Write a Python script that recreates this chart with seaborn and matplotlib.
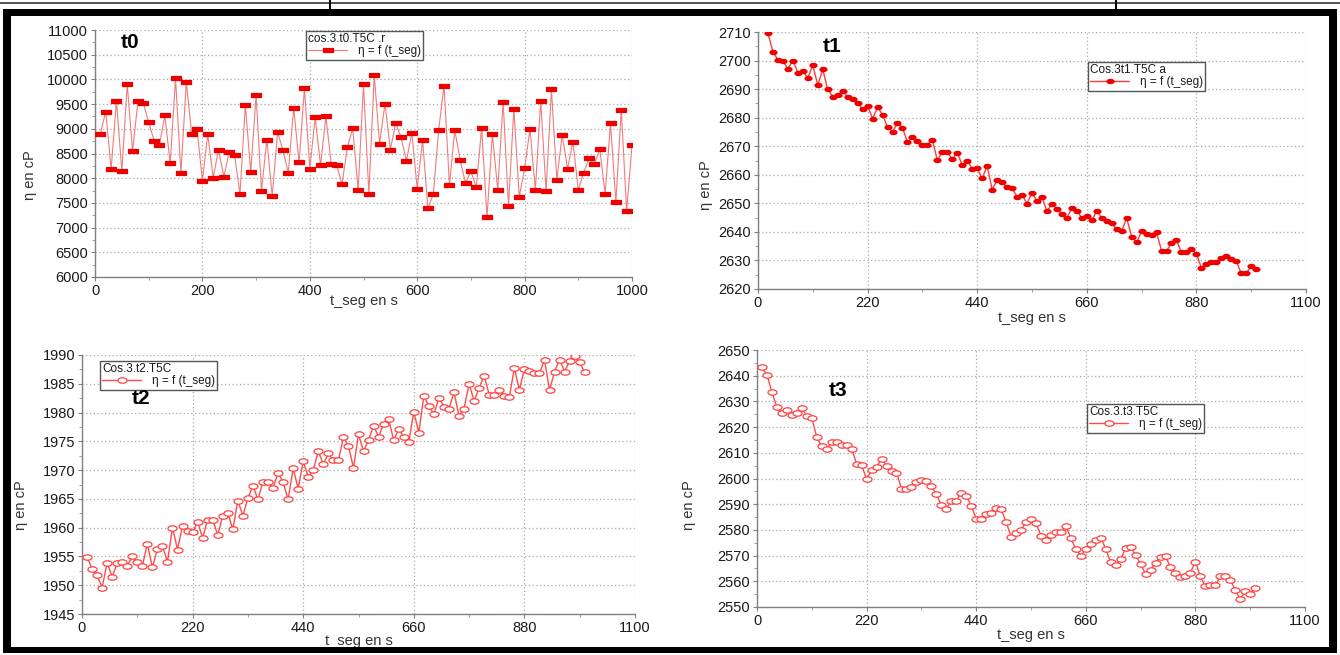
import numpy as np
import pandas as pd
import matplotlib
matplotlib.use("Agg")
import matplotlib.pyplot as plt
import seaborn as sns
from matplotlib.path import Path
from matplotlib.transforms import Affine2D
from matplotlib.patches import Rectangle
from matplotlib.ticker import AutoMinorLocator

# ---------------- data ----------------
t0_time = list(range(10, 1001, 10))
t0_eta = [8900, 9350, 8180, 9570, 8140, 9900, 8550, 9560, 9520, 9130,
          8760, 8680, 9270, 8300, 10020, 8100, 9940, 8900, 9000, 7950,
          8890, 8010, 8570, 8030, 8540, 8460, 7680, 9480, 8120, 9680,
          7740, 8780, 7640, 8930, 8570, 8110, 9430, 8320, 9820, 8190,
          9230, 8260, 9250, 8280, 8260, 7880, 8630, 9010, 7760, 9900,
          7680, 10090, 8700, 9510, 8580, 9110, 8830, 8350, 8920, 7790,
          8780, 7390, 7680, 8980, 9870, 7860, 8970, 8370, 7900, 8140,
          7820, 9020, 7210, 8890, 7760, 9550, 7440, 9410, 7620, 8200,
          9000, 7760, 9570, 7740, 9800, 7960, 8880, 8190, 8740, 7760,
          8110, 8400, 8280, 8590, 7690, 9110, 7510, 9390, 7340, 8670]

t1_time = list(range(20, 1001, 10))
t1_eta = [2709.5, 2703.1, 2700.2, 2699.9, 2697.1, 2700.0, 2695.8, 2696.2, 2694.0, 2698.3,
          2691.4, 2696.9, 2689.9, 2687.4, 2687.9, 2689.4, 2687.2, 2686.4, 2685.2, 2683.0,
          2684.1, 2679.7, 2683.6, 2681.1, 2676.7, 2675.1, 2678.0, 2676.5, 2671.4, 2673.1,
          2672.0, 2670.6, 2670.6, 2672.2, 2665.1, 2668.0, 2668.0, 2665.5, 2667.8, 2663.3,
          2665.0, 2662.1, 2662.3, 2658.7, 2663.1, 2654.8, 2658.1, 2657.3, 2655.6, 2655.3,
          2652.3,
          2653.0, 2649.9, 2653.7, 2650.8, 2652.2, 2647.2, 2649.7, 2648.0, 2646.2, 2644.9,
          2648.3, 2647.4, 2644.9, 2645.6, 2644.0, 2647.3, 2645.0, 2643.7, 2643.0, 2640.9,
          2640.2, 2644.9, 2638.3, 2636.3, 2640.2, 2639.1, 2638.8, 2639.8, 2633.4, 2633.4,
          2636.0, 2637.1, 2632.8, 2633.0, 2634.0, 2632.4, 2627.4, 2628.6, 2629.5, 2629.5,
          2630.7, 2631.7, 2630.5, 2629.8, 2625.5, 2625.5, 2628.0, 2626.9]

t2_time = list(range(10, 1001, 10))
t2_eta = [1954.9, 1952.9, 1951.7, 1949.6, 1953.9, 1951.5, 1953.8, 1954.0, 1953.4, 1955.0,
          1954.1, 1953.3, 1957.2, 1953.1, 1956.3, 1956.8, 1954.1, 1960.0, 1956.2, 1960.3,
          1959.4, 1959.2, 1961.0, 1958.2, 1961.4, 1961.4, 1958.7, 1962.1, 1962.6, 1959.7,
          1964.7, 1962.1, 1965.1, 1967.3, 1964.9, 1968.0, 1967.9, 1966.9, 1969.5, 1967.9,
          1964.9, 1970.3, 1966.8, 1971.5, 1968.8, 1970.0, 1973.3, 1971.0, 1972.9, 1971.7,
          1971.7, 1975.7, 1974.2, 1970.4,
          1976.2, 1973.3, 1975.2, 1977.7, 1975.8, 1978.0, 1978.8, 1975.2, 1977.1, 1975.8,
          1974.9, 1980.1, 1976.5, 1982.9, 1981.1, 1979.7, 1982.6, 1981.0, 1980.7, 1983.5,
          1979.4, 1980.7, 1985.0, 1982.0, 1984.3, 1986.4, 1983.1, 1983.1, 1984.0, 1982.9,
          1982.7, 1987.7, 1984.0, 1987.5, 1987.2, 1986.8, 1986.8, 1989.2, 1983.9, 1987.1,
          1989.2, 1987.1, 1989.0, 1989.9, 1988.7, 1987.0]

t3_time = list(range(10, 1001, 10))
t3_eta = [2643.2, 2640.4, 2633.5, 2627.7, 2625.6, 2626.7, 2624.6, 2625.6, 2627.3, 2624.2,
          2623.7, 2616.0, 2612.5, 2611.5, 2614.1, 2614.1, 2612.9, 2613.2, 2611.6, 2605.7,
          2605.2, 2599.7, 2603.3, 2604.4, 2607.7, 2605.0, 2602.9, 2602.3, 2596.1, 2596.1,
          2596.5, 2598.8, 2599.5, 2599.2, 2597.0, 2594.0, 2589.6, 2588.3, 2591.3, 2591.4,
          2594.5, 2593.2, 2589.4, 2584.4, 2584.4, 2586.2, 2586.5, 2588.7, 2588.1, 2583.1,
          2577.4, 2578.9,
          2580.0, 2582.9, 2584.2, 2582.6, 2577.7, 2576.1, 2578.1, 2579.1, 2579.1, 2581.6,
          2576.8, 2572.5, 2569.9, 2572.5, 2574.6, 2576.1, 2577.0, 2572.6, 2567.4, 2566.4,
          2568.6, 2572.9, 2573.3, 2570.1, 2566.7, 2562.8, 2564.5, 2567.1, 2569.4, 2569.7,
          2565.5, 2563.2, 2561.5, 2561.9, 2563.4, 2567.5, 2561.9, 2558.0, 2558.4, 2558.4,
          2561.9, 2561.9, 2560.6, 2556.5, 2553.1, 2556.1, 2554.9, 2557.2]

panel_names = ["t0", "t1", "t2", "t3"]
legend_titles = ["cos.3.t0.T5C .r", "Cos.3t1.T5C a", "Cos.3.t2.T5C", "Cos.3.t3.T5C"]
series_label = "\u03b7 = f (t_seg)"
x_label = "t_seg en s"
y_label = "\u03b7 en cP"

t0_xticks = [0, 200, 400, 600, 800, 1000]
t0_yticks = [6000, 6500, 7000, 7500, 8000, 8500, 9000, 9500, 10000, 10500, 11000]
t1_xticks = [0, 220, 440, 660, 880, 1100]
t1_yticks = [2620, 2630, 2640, 2650, 2660, 2670, 2680, 2690, 2700, 2710]
t2_xticks = [0, 220, 440, 660, 880, 1100]
t2_yticks = [1945, 1950, 1955, 1960, 1965, 1970, 1975, 1980, 1985, 1990]
t3_xticks = [0, 220, 440, 660, 880, 1100]
t3_yticks = [2550, 2560, 2570, 2580, 2590, 2600, 2610, 2620, 2630, 2640, 2650]

# ---------------- style ----------------
sns.set_theme(style="white")
plt.rcParams["font.family"] = ["Liberation Sans", "DejaVu Sans"]

W, H = 1340, 655
fig = plt.figure(figsize=(W / 100, H / 100), dpi=100)
fig.patch.set_facecolor("white")


def fx(px):
    return px / W


def fy(py):
    return 1 - py / H


rect_marker = Path([(-1, -0.42), (1, -0.42), (1, 0.42), (-1, 0.42), (-1, -0.42)],
                   [Path.MOVETO, Path.LINETO, Path.LINETO, Path.LINETO, Path.CLOSEPOLY])
ellipse_marker = Affine2D().scale(1.0, 0.6).transform_path(Path.unit_circle())

panels = [
    dict(time=t0_time, eta=t0_eta, xt=t0_xticks, yt=t0_yticks, box=(95, 632, 30, 277),
         marker=rect_marker, ms=7.0, mfc="#ee0000", mec="#ee0000", lc="#f27a7a", lw=0.8,
         leg=(306, 31), lab=(130, 43), ylab=(37, 175), xlab=294),
    dict(time=t1_time, eta=t1_eta, xt=t1_xticks, yt=t1_yticks, box=(758, 1306, 32, 289),
         marker=ellipse_marker, ms=5.0, mfc="#ee0000", mec="#ee0000", lc="#ff3a3a", lw=1.0,
         leg=(1088, 62), lab=(832, 46), ylab=(713, 185), xlab=311),
    dict(time=t2_time, eta=t2_eta, xt=t2_xticks, yt=t2_yticks, box=(82, 635, 355, 614),
         marker=ellipse_marker, ms=6.5, mfc="white", mec="#ff4040", lc="#ff4a4a", lw=1.0,
         leg=(100, 361), lab=(141, 399), ylab=(28, 505), xlab=634),
    dict(time=t3_time, eta=t3_eta, xt=t3_xticks, yt=t3_yticks, box=(757, 1305, 350, 607),
         marker=ellipse_marker, ms=6.5, mfc="white", mec="#ff4040", lc="#ff4a4a", lw=1.0,
         leg=(1087, 404), lab=(838, 390), ylab=(696, 505), xlab=628),
]

for i, p in enumerate(panels):
    x0, x1, y0, y1 = p["box"]
    wpx, hpx = x1 - x0, y1 - y0
    ax = fig.add_axes([fx(x0), fy(y1), fx(x1) - fx(x0), fy(y0) - fy(y1)])
    ax.set_facecolor("white")
    df = pd.DataFrame({"t_seg": p["time"], "eta": p["eta"]})
    sns.lineplot(data=df, x="t_seg", y="eta", ax=ax, color=p["lc"], linewidth=p["lw"],
                 marker=p["marker"], markersize=p["ms"], markerfacecolor=p["mfc"],
                 markeredgecolor=p["mec"], markeredgewidth=0.9, label=series_label,
                 errorbar=None, sort=False, zorder=3)
    ax.set_xlim(p["xt"][0], p["xt"][-1])
    ax.set_ylim(p["yt"][0], p["yt"][-1])
    ax.set_xticks(p["xt"])
    ax.set_yticks(p["yt"])
    ax.xaxis.set_minor_locator(AutoMinorLocator(2))
    ax.yaxis.set_minor_locator(AutoMinorLocator(2))
    ax.grid(True, which="major", linestyle=(0, (1, 2)), color="#a8a8a8", linewidth=0.9, zorder=0)
    for s in ["top", "right"]:
        ax.spines[s].set_visible(False)
    for s in ["left", "bottom"]:
        ax.spines[s].set_color("#808080")
        ax.spines[s].set_linewidth(1.0)
    ax.tick_params(axis="both", which="major", direction="out", length=3, width=0.8,
                   color="#808080", labelsize=10.5, labelcolor="#1a1a1a", pad=2,
                   bottom=True, left=True)
    ax.tick_params(axis="both", which="minor", direction="out", length=2, width=0.6,
                   color="#909090", bottom=True, left=True)
    ax.set_xlabel(x_label, fontsize=10.5, color="#333333")
    ax.set_ylabel(y_label, fontsize=10.5, color="#333333")
    ax.xaxis.set_label_coords(0.5, -(p["xlab"] - y1) / hpx)
    ax.yaxis.set_label_coords((p["ylab"][0] - x0) / wpx, (y1 - p["ylab"][1]) / hpx)

    lx, ly = p["leg"]
    leg = ax.legend(title=legend_titles[i], loc="upper left",
                    bbox_to_anchor=(fx(lx), fy(ly)), bbox_transform=fig.transFigure,
                    fontsize=8.5, title_fontsize=8.5, frameon=True, fancybox=False,
                    framealpha=1, edgecolor="#555555", borderpad=0.2, labelspacing=0.0,
                    handlelength=3.3, handletextpad=0.9, borderaxespad=0,
                    alignment="left")
    leg.get_frame().set_linewidth(1.0)
    leg.get_title().set_color("#1a1a1a")
    for t in leg.get_texts():
        t.set_color("#1a1a1a")

    fig.text(fx(p["lab"][0]), fy(p["lab"][1]), panel_names[i], fontsize=15,
             fontweight="bold", ha="center", va="center", color="black")

# ---------------- black frame around the figure ----------------
def bar(x0, y0, x1, y1, color="black"):
    fig.add_artist(Rectangle((fx(x0), fy(y1)), fx(x1) - fx(x0), fy(y0) - fy(y1),
                             transform=fig.transFigure, facecolor=color,
                             edgecolor="none", zorder=10))

bar(0, 2, 1340, 3.5, color="#555555")
bar(329, 0, 331, 10)
bar(1115, 0, 1117, 10)
bar(3, 9, 1337, 16)
bar(3, 9, 11, 653)
bar(1329, 9, 1337, 653)
bar(3, 647, 1337, 653)

fig.savefig("out.png", dpi=100, facecolor="white")
